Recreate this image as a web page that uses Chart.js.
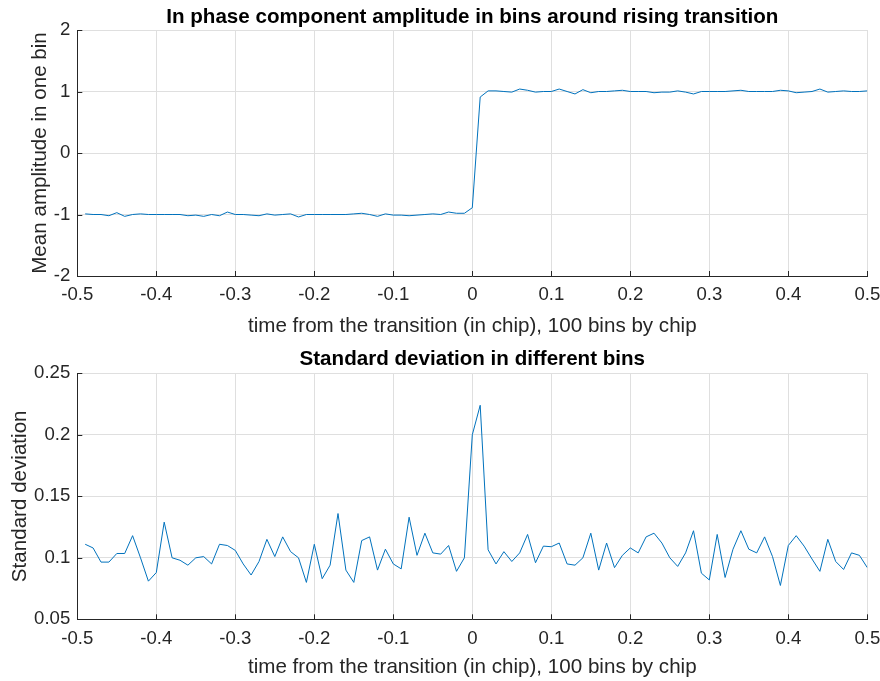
<!DOCTYPE html>
<html lang="en">
  <head>
    <meta charset="UTF-8" />
    <title>Bins around rising transition</title>
    <script src="https://cdn.jsdelivr.net/npm/chart.js@4.4.1/dist/chart.umd.min.js"></script>
    <style>
      body { margin: 0; background: #fff; }
      canvas { display: block; }
    </style>
  </head>

  <body>
    <canvas id="meanChart" width="880" height="340"></canvas>
    <canvas id="stdChart" width="880" height="341"></canvas>

    <script>
      // bin centres, in chip (100 bins per chip)
      const binTimes = [
        -0.49, -0.48, -0.47, -0.46, -0.45, -0.44, -0.43, -0.42, -0.41, -0.4,
        -0.39, -0.38, -0.37, -0.36, -0.35, -0.34, -0.33, -0.32, -0.31, -0.3,
        -0.29, -0.28, -0.27, -0.26, -0.25, -0.24, -0.23, -0.22, -0.21, -0.2,
        -0.19, -0.18, -0.17, -0.16, -0.15, -0.14, -0.13, -0.12, -0.11, -0.1,
        -0.09, -0.08, -0.07, -0.06, -0.05, -0.04, -0.03, -0.02, -0.01, 0,
        0.01, 0.02, 0.03, 0.04, 0.05, 0.06, 0.07, 0.08, 0.09, 0.1,
        0.11, 0.12, 0.13, 0.14, 0.15, 0.16, 0.17, 0.18, 0.19, 0.2,
        0.21, 0.22, 0.23, 0.24, 0.25, 0.26, 0.27, 0.28, 0.29, 0.3,
        0.31, 0.32, 0.33, 0.34, 0.35, 0.36, 0.37, 0.38, 0.39, 0.4,
        0.41, 0.42, 0.43, 0.44, 0.45, 0.46, 0.47, 0.48, 0.49, 0.5
      ];

      const meanAmplitude = [
        -0.99, -1.0, -1.0, -1.02, -0.97, -1.03, -1.0, -0.99, -1.0, -1.0,
        -1.0, -1.0, -1.0, -1.02, -1.01, -1.03, -1.0, -1.02, -0.96, -1.0,
        -1.0, -1.01, -1.02, -0.99, -1.01, -1.0, -0.99, -1.04, -1.0, -1.0,
        -1.0, -1.0, -1.0, -1.0, -0.99, -0.98, -1.0, -1.03, -0.99, -1.01,
        -1.01, -1.02, -1.01, -1.0, -0.99, -1.0, -0.96, -0.98, -0.98, -0.89,
        0.91, 1.01, 1.01, 1.0, 0.99, 1.04, 1.02, 0.99, 1.0, 1.0,
        1.04, 1.0, 0.96, 1.03, 0.98, 1.0, 1.0, 1.01, 1.02, 1.0,
        1.0, 1.0, 0.98, 0.99, 0.99, 1.01, 0.99, 0.96, 1.0, 1.0,
        1.0, 1.0, 1.01, 1.02, 1.0, 1.0, 1.0, 1.0, 1.02, 1.01,
        0.98, 0.99, 1.0, 1.04, 0.99, 1.0, 1.01, 1.0, 1.0, 1.01
      ];

      const stdDeviation = [
        0.111, 0.108, 0.0965, 0.0965, 0.1035, 0.1035, 0.118, 0.1, 0.081, 0.088,
        0.129, 0.1, 0.098, 0.094, 0.1, 0.101, 0.095, 0.111, 0.11, 0.106,
        0.095, 0.086, 0.097, 0.115, 0.101, 0.117, 0.105, 0.1, 0.08, 0.111,
        0.083, 0.094, 0.136, 0.09, 0.08, 0.114, 0.117, 0.09, 0.107, 0.095,
        0.091, 0.133, 0.102, 0.12, 0.104, 0.103, 0.11, 0.089, 0.1, 0.2,
        0.224, 0.1065, 0.095, 0.105, 0.097, 0.104, 0.119, 0.096, 0.1095, 0.109,
        0.112, 0.095, 0.094, 0.1, 0.12, 0.09, 0.112, 0.092, 0.102, 0.108,
        0.104, 0.117, 0.12, 0.112, 0.1, 0.093, 0.104, 0.122, 0.0875, 0.082,
        0.119, 0.084, 0.107, 0.122, 0.107, 0.104, 0.117, 0.101, 0.0775, 0.11,
        0.118, 0.1095, 0.099, 0.089, 0.115, 0.097, 0.0905, 0.104, 0.102, 0.092
      ];

      const timeTicks = [-0.5, -0.4, -0.3, -0.2, -0.1, 0, 0.1, 0.2, 0.3, 0.4, 0.5];
      const meanTicks = [-2, -1, 0, 1, 2];
      const stdTicks = [0.05, 0.1, 0.15, 0.2, 0.25];

      const FONT = "'Liberation Sans', Arial, sans-serif";
      const INK = "#262626";
      const GRID = "#dfdfdf";

      // matlab style: short inward ticks, bold title centred over the axes
      const axesDecor = {
        id: "axesDecor",
        afterDraw(chart, args, opts) {
          const { ctx, chartArea: a, scales } = chart;
          ctx.save();
          ctx.strokeStyle = INK;
          ctx.lineWidth = 1;
          ctx.beginPath();
          scales.x.ticks.forEach((t) => {
            const px = Math.round(scales.x.getPixelForValue(t.value)) + 0.5;
            ctx.moveTo(px, a.bottom);
            ctx.lineTo(px, a.bottom - 5);
          });
          scales.y.ticks.forEach((t) => {
            const py = Math.round(scales.y.getPixelForValue(t.value)) + 0.5;
            ctx.moveTo(a.left, py);
            ctx.lineTo(a.left + 5, py);
          });
          ctx.stroke();
          ctx.fillStyle = "#000";
          ctx.font = "bold 20.6px " + FONT;
          ctx.textAlign = "center";
          ctx.textBaseline = "alphabetic";
          ctx.fillText(opts.text, (a.left + a.right) / 2, a.top - opts.gap);
          ctx.restore();
        },
      };

      function makeChart(id, values, yTicks, p) {
        const points = binTimes.map((t, i) => ({ x: t, y: values[i] }));
        return new Chart(document.getElementById(id), {
          type: "line",
          data: {
            datasets: [
              {
                data: points,
                borderColor: "#0072BD",
                borderWidth: 1,
                pointRadius: 0,
                tension: 0,
                fill: false,
              },
            ],
          },
          plugins: [axesDecor],
          options: {
            responsive: false,
            animation: false,
            layout: { padding: { top: p.top, right: 12.7, left: 0, bottom: 0 } },
            plugins: {
              legend: { display: false },
              tooltip: { enabled: false },
              axesDecor: { text: p.title, gap: p.titleGap },
            },
            scales: {
              x: {
                type: "linear",
                min: -0.5,
                max: 0.5,
                afterBuildTicks: (s) => { s.ticks = timeTicks.map((v) => ({ value: v })); },
                afterFit: (s) => {
                  s.height = p.xAxisH;
                  s.paddingLeft = 0;
                  s.paddingRight = 0;
                },
                ticks: {
                  color: INK,
                  font: { family: FONT, size: 18.6 },
                  padding: 8,
                  maxRotation: 0,
                  autoSkip: false,
                  callback: (v) => String(v),
                },
                grid: { color: GRID, drawTicks: false },
                border: { color: INK },
                title: {
                  display: true,
                  text: "time from the transition (in chip), 100 bins by chip",
                  color: INK,
                  font: { family: FONT, size: 20.6 },
                  padding: { top: 0, bottom: 1 },
                },
              },
              y: {
                min: yTicks[0],
                max: yTicks[yTicks.length - 1],
                afterBuildTicks: (s) => { s.ticks = yTicks.map((v) => ({ value: v })); },
                afterFit: (s) => {
                  s.width = 77.3;
                  s.paddingTop = 0;
                  s.paddingBottom = 0;
                },
                ticks: {
                  color: INK,
                  font: { family: FONT, size: 18.6 },
                  padding: 7,
                  callback: (v) => String(v),
                },
                grid: { color: GRID, drawTicks: false },
                border: { color: INK },
                title: {
                  display: true,
                  text: p.yLabel,
                  color: INK,
                  font: { family: FONT, size: 20.6 },
                  padding: { top: p.yLabelPad, bottom: 0 },
                },
              },
            },
          },
        });
      }

      makeChart("meanChart", meanAmplitude, meanTicks, {
        top: 30,
        xAxisH: 64,
        title: "In phase component amplitude in bins around rising transition",
        titleGap: 7.3,
        yLabel: "Mean amplitude in one bin",
        yLabelPad: 27.6,
      });

      makeChart("stdChart", stdDeviation, stdTicks, {
        top: 33.3,
        xAxisH: 61.7,
        title: "Standard deviation in different bins",
        titleGap: 8.3,
        yLabel: "Standard deviation",
        yLabelPad: 7.5,
      });
    </script>
  </body>
</html>
